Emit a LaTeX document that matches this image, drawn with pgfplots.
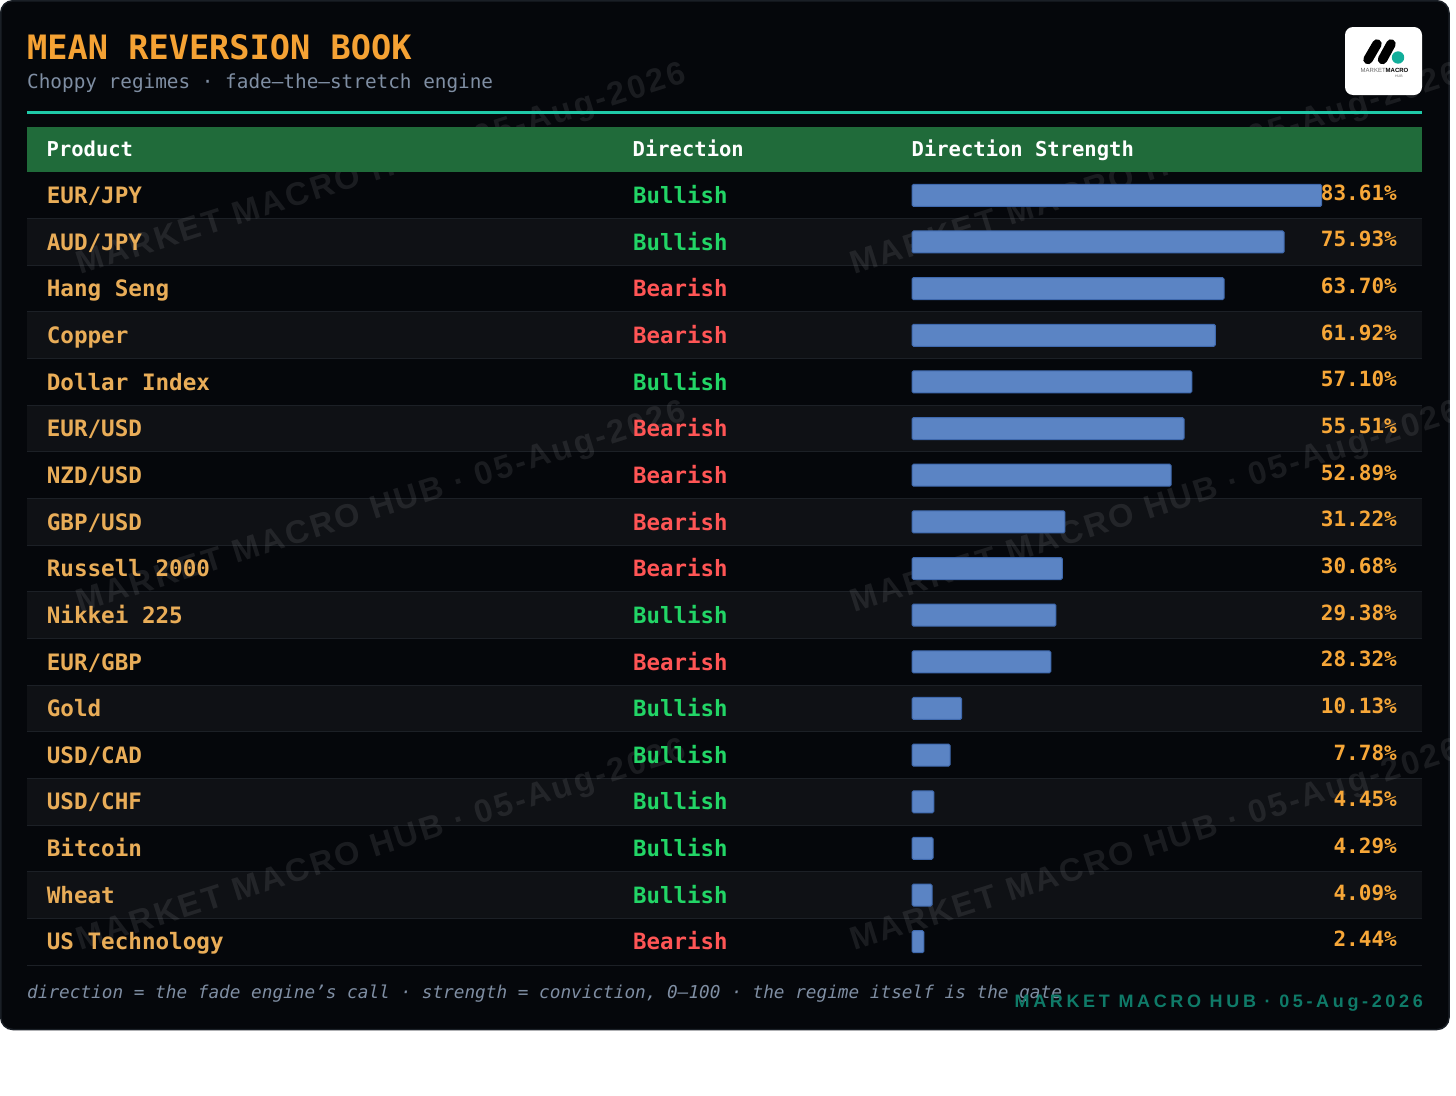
\documentclass[border=0pt]{standalone}
\usepackage{fontspec}
\usepackage{pgfplots}
\usepackage{pgfplotstable}
\pgfplotsset{compat=1.18}
\setmainfont[Ligatures=ResetAll]{DejaVu Sans Mono}
\newfontfamily\wmfont[LetterSpace=8]{Liberation Sans}
\newfontfamily\footfont[LetterSpace=20.25]{Liberation Sans}
\newfontfamily\logofont{Liberation Sans}
\definecolor{cardbg}{HTML}{05070B}
\definecolor{cardedge}{HTML}{1A1F26}
\definecolor{stripe}{HTML}{0F1115}
\definecolor{sep}{HTML}{1C2026}
\definecolor{headbg}{HTML}{206B3A}
\definecolor{teal}{HTML}{1FC9A8}
\definecolor{logoteal}{HTML}{12AE9A}
\definecolor{titlec}{HTML}{F5A234}
\definecolor{subc}{HTML}{7F8EA3}
\definecolor{prodc}{HTML}{E9AD58}
\definecolor{bull}{HTML}{22D566}
\definecolor{bear}{HTML}{FF5555}
\definecolor{pctc}{HTML}{F7A738}
\definecolor{barf}{HTML}{5B84C4}
\definecolor{bare}{HTML}{3F69AE}
\definecolor{footc}{HTML}{0F7A68}
\pgfplotstableread{
row strength
0 83.61
1 75.93
2 63.70
3 61.92
4 57.10
5 55.51
6 52.89
7 31.22
8 30.68
9 29.38
10 28.32
11 10.13
12 7.78
13 4.45
14 4.29
15 4.09
16 2.44
}\strengthtable
\newcommand{\px}[1]{\fontsize{#1pt}{#1pt}\selectfont}
\begin{document}
\begin{tikzpicture}
\begin{scope}[x=1pt,y=-1pt]
\path[fill=white] (0,0) rectangle (1456,1095);
\path[fill=cardbg,draw=cardedge,line width=1.5pt,rounded corners=12pt] (0.75,0.75) rectangle (1449,1029.5);
\foreach \i in {1,3,...,15}{
  \path[fill=stripe] (27,{172+46.65*\i}) rectangle (1422,{172+46.65*(\i+1)});
}
\foreach \i in {1,...,17}{
  \draw[sep,line width=1pt] (27,{172+46.65*\i}) -- (1422,{172+46.65*\i});
}
\begin{scope}
\clip[rounded corners=12pt] (0.75,0.75) rectangle (1449,1029.5);
\foreach \dx in {0,774}{
 \foreach \dy in {0,338,676}{
  \node[anchor=base west,inner sep=0pt,rotate=17.6,text=white,opacity=0.085,font=\wmfont\bfseries\px{32.5}] at ({80+\dx},{275+\dy}) {MARKET MACRO HUB · 05-Aug-2026};
 }
}
\end{scope}
\path[fill=headbg] (27,127) rectangle (1422,172);
\path[fill=teal] (27,111) rectangle (1422,114);
\node[anchor=base west,inner sep=0pt,text=titlec,font=\bfseries\px{33.6}] at (27,59) {MEAN REVERSION BOOK};
\node[anchor=base west,inner sep=0pt,text=subc,font=\px{19.35}] at (27,88) {Choppy regimes · fade—the—stretch engine};
\node[anchor=base west,inner sep=0pt,text=white,font=\bfseries\px{20.5}] at (46.5,156) {Product};
\node[anchor=base west,inner sep=0pt,text=white,font=\bfseries\px{20.5}] at (632.5,156) {Direction};
\node[anchor=base west,inner sep=0pt,text=white,font=\bfseries\px{20.5}] at (911.5,156) {Direction Strength};
\path[fill=white,rounded corners=8pt] (1345,27) rectangle (1422,95);
\draw[black,line width=9.5pt,line cap=round] (1368,59.5) -- (1377,44);
\draw[black,line width=9.5pt,line cap=round] (1382.5,59.5) -- (1391,44);
\path[fill=logoteal] (1398,57.5) circle (6.2);
\node[anchor=base west,inner sep=0pt,font=\logofont\px{6}] at (1360.5,72.5) {\textcolor{black!60}{MARKET}\textbf{MACRO}};
\node[anchor=base west,inner sep=0pt,text=black!60,font=\logofont\px{3.5}] at (1395,77.5) {HUB};
\end{scope}
\begin{axis}[
  at={(27pt,-965pt)},anchor=south west,
  scale only axis,width=1395pt,height=793pt,
  xmin=-180.61,xmax=104.08,ymin=-0.5,ymax=16.5,
  y dir=reverse,clip=false,
  axis line style={draw=none},tick style={draw=none},
  major tick length=0pt,
  xtick=\empty,
  ytick={0,1,...,16},
  yticklabels={EUR/JPY,AUD/JPY,Hang Seng,Copper,Dollar Index,EUR/USD,NZD/USD,GBP/USD,Russell 2000,Nikkei 225,EUR/GBP,Gold,USD/CAD,USD/CHF,Bitcoin,Wheat,US Technology},
  yticklabel style={anchor=west,inner sep=0pt,xshift=19.6pt,text=prodc,font=\bfseries\px{22.6},text height=18pt,text depth=1.6pt},
  /pgf/number format/assume math mode=true,
]
\addplot[xbar,bar shift=0pt,bar width=22pt,fill=barf,draw=bare,line width=1pt,rounded corners=1.5pt] table[x=strength,y=row] {\strengthtable};
\addplot[draw=none,mark=none,point meta=explicit,
  nodes near coords={\pgfmathprintnumber[fixed,fixed zerofill,precision=2]{\pgfplotspointmeta}\%},
  nodes near coords style={anchor=east,inner sep=0pt,text=pctc,font=\bfseries\px{21},text height=16pt,text depth=6pt}]
  table[x expr=98.98,y=row,meta=strength] {\strengthtable};
\addplot[draw=none,mark=none,nodes near coords={Bullish},
  nodes near coords style={anchor=west,inner sep=0pt,text=bull,font=\bfseries\px{22.4},text height=18pt,text depth=1.6pt}]
  coordinates {(-56.94,0)(-56.94,1)(-56.94,4)(-56.94,9)(-56.94,11)(-56.94,12)(-56.94,13)(-56.94,14)(-56.94,15)};
\addplot[draw=none,mark=none,nodes near coords={Bearish},
  nodes near coords style={anchor=west,inner sep=0pt,text=bear,font=\bfseries\px{22.4},text height=18pt,text depth=1.6pt}]
  coordinates {(-56.94,2)(-56.94,3)(-56.94,5)(-56.94,6)(-56.94,7)(-56.94,8)(-56.94,10)(-56.94,16)};
\end{axis}
\begin{scope}[x=1pt,y=-1pt]
\node[anchor=base west,inner sep=0pt,text=subc,font=\itshape\px{17.72}] at (27,998) {direction = the fade engine's call · strength = conviction, 0—100 · the regime itself is the gate};
\node[anchor=base east,inner sep=0pt,text=footc,font=\footfont\bfseries\px{18}] at (1423,1007.5) {MARKET MACRO HUB · 05-Aug-2026};
\path (0,0) rectangle (1456,1095);
\end{scope}
\end{tikzpicture}
\end{document}
